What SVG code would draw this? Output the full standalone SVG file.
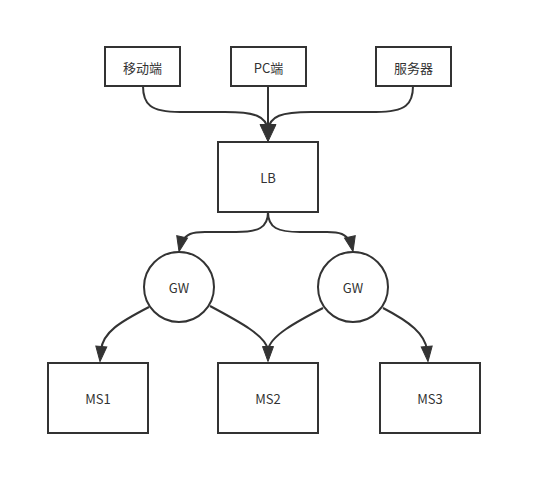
<svg xmlns="http://www.w3.org/2000/svg" width="542" height="495" viewBox="0 0 542 495">
<defs>
<style>
.box{fill:#fff;stroke:#333;stroke-width:2}
.lbl{font-family:"Noto Sans CJK SC","Noto Sans",sans-serif;font-size:13px;fill:#333;text-anchor:middle;dominant-baseline:central}
.edge{fill:none;stroke:#333;stroke-width:2}
.head{fill:#333;stroke:#333;stroke-width:1;stroke-linejoin:miter}
</style>
</defs>
<rect width="542" height="495" fill="#fff"/>
<g id="edges">
<path class="edge" d="M143,86 C143,104 150,112 180,112 L225,112 C255,112 266,116 268,130"/>
<path class="edge" d="M268,86 L268,130"/>
<path class="edge" d="M413,86 C413,104 406,112 376,112 L311,112 C281,112 270,116 268,130"/>
<path class="edge" d="M268,212 C268,228 258,232 236,232 L205,232 C192,232 186,234 182,242"/>
<path class="edge" d="M268,212 C268,228 278,232 300,232 L327,232 C340,232 346,234 350,242"/>
<path class="edge" d="M149,307 C120,322 103,332 101,350"/>
<path class="edge" d="M210,306 C240,322 266,336 268,350"/>
<path class="edge" d="M323,308 C296,322 270,336 268,350"/>
<path class="edge" d="M383,308 C410,322 425,334 427,350"/>
<path class="head" d="M0,0 L-8,-17 L8,-17 Z" transform="translate(268,141.5)"/>
<path class="head" d="M0,0 L-5.5,-15 L5.5,-15 Z" transform="translate(179,251.5) rotate(12)"/>
<path class="head" d="M0,0 L-5.5,-15 L5.5,-15 Z" transform="translate(353,251.5) rotate(-12)"/>
<path class="head" d="M0,0 L-5.5,-15 L5.5,-15 Z" transform="translate(100,361.5) rotate(5)"/>
<path class="head" d="M0,0 L-5.5,-15 L5.5,-15 Z" transform="translate(268,361.5)"/>
<path class="head" d="M0,0 L-5.5,-15 L5.5,-15 Z" transform="translate(428,361.5) rotate(-5)"/>
</g>
<g id="mobile"><rect class="box" x="105" y="47" width="75" height="39"/><text class="lbl" x="142.5" y="67">移动端</text></g>
<g id="pc"><rect class="box" x="231" y="47" width="75" height="39"/><text class="lbl" x="268.5" y="67">PC端</text></g>
<g id="server"><rect class="box" x="376" y="47" width="75" height="39"/><text class="lbl" x="413.5" y="67">服务器</text></g>
<g id="lb"><rect class="box" x="218" y="142" width="100" height="70"/><text class="lbl" x="268" y="177">LB</text></g>
<g id="gw1"><circle class="box" cx="179" cy="287" r="35"/><text class="lbl" x="179" y="287">GW</text></g>
<g id="gw2"><circle class="box" cx="353" cy="287" r="35"/><text class="lbl" x="353" y="287">GW</text></g>
<g id="ms1"><rect class="box" x="48" y="363" width="100" height="70"/><text class="lbl" x="98" y="398">MS1</text></g>
<g id="ms2"><rect class="box" x="218" y="363" width="100" height="70"/><text class="lbl" x="268" y="398">MS2</text></g>
<g id="ms3"><rect class="box" x="380" y="363" width="100" height="70"/><text class="lbl" x="430" y="398">MS3</text></g>
</svg>
